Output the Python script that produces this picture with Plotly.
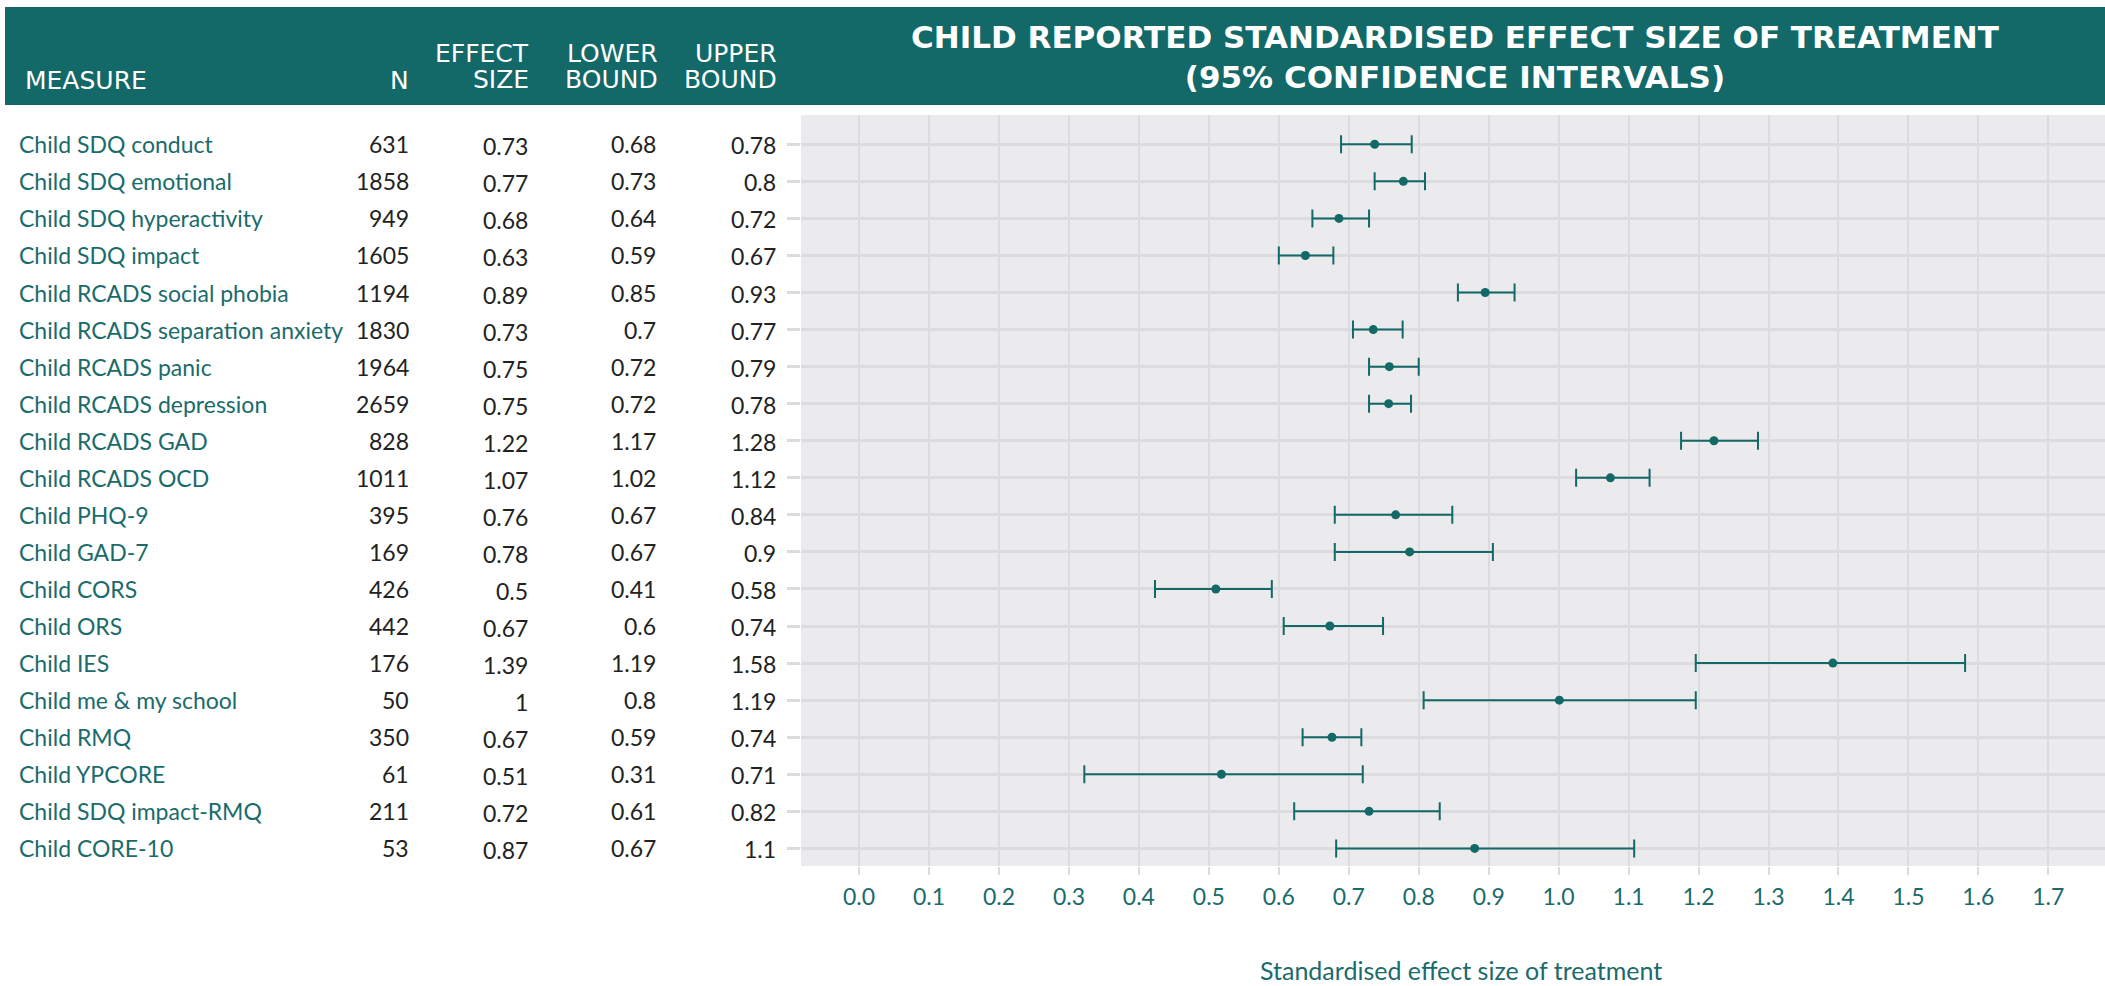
import plotly.graph_objects as go

# ---------------- data (table) ----------------
measures = [
    "Child SDQ conduct", "Child SDQ emotional", "Child SDQ hyperactivity", "Child SDQ impact",
    "Child RCADS social phobia", "Child RCADS separation anxiety", "Child RCADS panic",
    "Child RCADS depression", "Child RCADS GAD", "Child RCADS OCD", "Child PHQ-9", "Child GAD-7",
    "Child CORS", "Child ORS", "Child IES", "Child me & my school", "Child RMQ", "Child YPCORE",
    "Child SDQ impact-RMQ", "Child CORE-10",
]
n_values = [631, 1858, 949, 1605, 1194, 1830, 1964, 2659, 828, 1011, 395, 169, 426, 442, 176, 50, 350, 61, 211, 53]
effect_size = [0.73, 0.77, 0.68, 0.63, 0.89, 0.73, 0.75, 0.75, 1.22, 1.07, 0.76, 0.78, 0.5, 0.67, 1.39, 1, 0.67, 0.51, 0.72, 0.87]
lower_bound = [0.68, 0.73, 0.64, 0.59, 0.85, 0.7, 0.72, 0.72, 1.17, 1.02, 0.67, 0.67, 0.41, 0.6, 1.19, 0.8, 0.59, 0.31, 0.61, 0.67]
upper_bound = [0.78, 0.8, 0.72, 0.67, 0.93, 0.77, 0.79, 0.78, 1.28, 1.12, 0.84, 0.9, 0.58, 0.74, 1.58, 1.19, 0.74, 0.71, 0.82, 1.1]

# ---------------- data (as drawn in the chart) ----------------
plot_effect = [0.737, 0.778, 0.686, 0.638, 0.895, 0.735, 0.758, 0.757, 1.222, 1.074,
               0.767, 0.787, 0.510, 0.673, 1.392, 1.001, 0.676, 0.518, 0.729, 0.880]
plot_lower = [0.689, 0.737, 0.648, 0.600, 0.856, 0.706, 0.729, 0.729, 1.175, 1.025,
              0.680, 0.680, 0.423, 0.607, 1.196, 0.807, 0.634, 0.322, 0.622, 0.682]
plot_upper = [0.790, 0.809, 0.729, 0.678, 0.937, 0.777, 0.800, 0.789, 1.285, 1.130,
              0.848, 0.906, 0.590, 0.749, 1.581, 1.196, 0.718, 0.720, 0.830, 1.108]

x_ticks = [0.0, 0.1, 0.2, 0.3, 0.4, 0.5, 0.6, 0.7, 0.8, 0.9, 1.0, 1.1, 1.2, 1.3, 1.4, 1.5, 1.6, 1.7]
col_headers = ["MEASURE", "N", "EFFECT", "SIZE", "LOWER", "BOUND", "UPPER", "BOUND"]
title_text = "CHILD REPORTED STANDARDISED EFFECT SIZE OF TREATMENT<br>(95% CONFIDENCE INTERVALS)"
axis_title = "Standardised effect size of treatment"

# ---------------- style ----------------
W, H = 2105, 986
PLOT_L, PLOT_R, PLOT_T, PLOT_B = 801, 2105, 115, 866
TEAL = "#136868"
TEAL_TXT = "#1a6b6b"
DARK = "#222222"
BG = "#ebebed"
GRID = "#dcdcdf"
BODY_FONT = "Lato"
HEAD_FONT = "DejaVu Sans"


def px(x):
    return (x - PLOT_L) / (PLOT_R - PLOT_L)


def py(y):
    return (PLOT_B - y) / (PLOT_B - PLOT_T)


rows = list(range(len(measures)))

fig = go.Figure()
fig.add_trace(go.Scatter(
    x=plot_effect,
    y=rows,
    mode="markers",
    marker=dict(size=9, color=TEAL),
    error_x=dict(
        type="data", symmetric=False,
        array=[u - e for u, e in zip(plot_upper, plot_effect)],
        arrayminus=[e - l for e, l in zip(plot_effect, plot_lower)],
        color=TEAL, thickness=2, width=9,
    ),
    hovertext=measures,
    showlegend=False,
))

annotations = []
# table body
for i, m in enumerate(measures):
    annotations.append(dict(x=px(17), y=i, xref="paper", yref="y", text=m, showarrow=False,
                            xanchor="left", yanchor="middle",
                            font=dict(family=BODY_FONT, size=23, color=TEAL_TXT)))
    cols = [(411, f"{n_values[i]}", 0), (530, f"{effect_size[i]:g}", -2),
            (658, f"{lower_bound[i]:g}", 0), (778, f"{upper_bound[i]:g}", -1)]
    for xr, txt, ys in cols:
        annotations.append(dict(x=px(xr), y=i, xref="paper", yref="y", text=txt, showarrow=False,
                                xanchor="right", yanchor="middle", yshift=ys,
                                font=dict(family=BODY_FONT, size=23, color=DARK)))

# column headers
head_pos = [(23, 80, "left"), (411, 80, "right"), (531, 53, "right"), (531, 79, "right"),
            (660, 53, "right"), (660, 79, "right"), (779, 53, "right"), (779, 79, "right")]
for txt, (xh, yh, anc) in zip(col_headers, head_pos):
    annotations.append(dict(x=px(xh), y=py(yh), xref="paper", yref="paper", text=txt,
                            showarrow=False, xanchor=anc, yanchor="middle",
                            font=dict(family=HEAD_FONT, size=25, color="white")))

# chart title
annotations.append(dict(x=px(1455), y=py(57), xref="paper", yref="paper", text=title_text,
                        showarrow=False, xanchor="center", yanchor="middle", align="center",
                        font=dict(family=HEAD_FONT, size=31, color="white", weight="bold")))

# axis title
annotations.append(dict(x=px(1461), y=py(970), xref="paper", yref="paper", text=axis_title,
                        showarrow=False, xanchor="center", yanchor="middle",
                        font=dict(family=BODY_FONT, size=25, color=TEAL_TXT)))

shapes = [dict(type="rect", xref="paper", yref="paper", x0=px(5), x1=px(2105), y0=py(105), y1=py(7),
               fillcolor=TEAL, line=dict(width=0), layer="below")]

fig.update_layout(
    width=W, height=H,
    margin=dict(l=PLOT_L, r=W - PLOT_R, t=PLOT_T, b=H - PLOT_B, pad=0),
    paper_bgcolor="white",
    plot_bgcolor=BG,
    annotations=annotations,
    shapes=shapes,
    font=dict(family=BODY_FONT),
)
fig.update_xaxes(
    range=[-0.083, 1.781], tickvals=x_ticks, tickformat=".1f",
    showgrid=True, gridcolor=GRID, gridwidth=2, zeroline=False,
    ticks="outside", ticklen=8, tickwidth=2, tickcolor=GRID,
    tickfont=dict(family=BODY_FONT, size=23, color=TEAL_TXT),
    ticklabelstandoff=2, showline=False,
)
fig.update_yaxes(
    range=[19.475, -0.79], tickvals=rows, showticklabels=False,
    showgrid=True, gridcolor=GRID, gridwidth=2.5, zeroline=False,
    ticks="outside", ticklen=13, tickwidth=2.5, tickcolor=GRID, showline=False,
)

fig.write_html(
    "out.html",
    config={"displayModeBar": False},
    post_script="document.body.style.margin='0px'; document.body.style.overflow='hidden';",
)
